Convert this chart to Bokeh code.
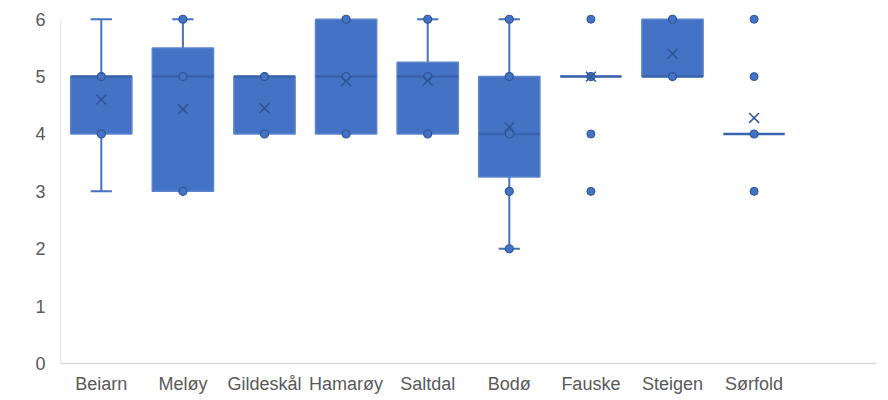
from bokeh.plotting import figure
from bokeh.models import Range1d, FixedTicker, ColumnDataSource
from bokeh.embed import file_html
from bokeh.resources import INLINE

# ---- data ----
categories = ["Beiarn", "Meløy", "Gildeskål", "Hamarøy", "Saltdal", "Bodø", "Fauske", "Steigen", "Sørfold"]
q1 =         [4.0, 3.0, 4.0, 4.0, 4.0, 3.25, 5.0, 5.0, 4.0]
median =     [5.0, 5.0, 5.0, 5.0, 5.0, 4.0, 5.0, 5.0, 4.0]
q3 =         [5.0, 5.5, 5.0, 6.0, 5.25, 5.0, 5.0, 6.0, 4.0]
whisker_lo = [3.0, 3.0, 4.0, 4.0, 4.0, 2.0, 5.0, 5.0, 4.0]
whisker_hi = [6.0, 6.0, 5.0, 6.0, 6.0, 6.0, 5.0, 6.0, 4.0]
mean =       [4.6, 4.43, 4.45, 4.92, 4.93, 4.12, 5.0, 5.4, 4.28]
inner_points = [[4, 5], [3, 5, 6], [4, 5], [4, 5, 6], [4, 5, 6], [2, 3, 4, 5, 6], [5], [5, 6], [4]]
outliers =     [[], [], [], [], [], [], [3, 4, 6], [], [3, 5, 6]]

BLUE = "#4472C4"
DARK = "#2F5597"
GREY_TXT = "#595959"
FONT = "Liberation Sans"

xs = list(range(len(categories)))

p = figure(width=888, height=400, output_backend="svg", toolbar_location=None,
           x_range=Range1d(-0.5, 9.5), y_range=Range1d(0, 6.1),
           min_border_left=60, min_border_right=12, min_border_top=13, min_border_bottom=37)
p.outline_line_color = None
p.background_fill_color = "white"
p.border_fill_color = "white"
p.xgrid.grid_line_color = None
p.ygrid.grid_line_color = None

src = ColumnDataSource(dict(x=xs, q1=q1, q3=q3, med=median, lo=whisker_lo, hi=whisker_hi, mean=mean))
# whiskers
p.segment(x0="x", x1="x", y0="q3", y1="hi", source=src, line_color=BLUE, line_width=2)
p.segment(x0="x", x1="x", y0="lo", y1="q1", source=src, line_color=BLUE, line_width=2)
# caps only where whisker extends beyond the box
cap_hi = [(x, h) for x, h, t in zip(xs, whisker_hi, q3) if h > t]
cap_lo = [(x, l) for x, l, b in zip(xs, whisker_lo, q1) if l < b]
cap_w = 0.13
if cap_hi:
    p.segment(x0=[c[0] - cap_w for c in cap_hi], x1=[c[0] + cap_w for c in cap_hi],
              y0=[c[1] for c in cap_hi], y1=[c[1] for c in cap_hi], line_color=BLUE, line_width=2)
if cap_lo:
    p.segment(x0=[c[0] - cap_w for c in cap_lo], x1=[c[0] + cap_w for c in cap_lo],
              y0=[c[1] for c in cap_lo], y1=[c[1] for c in cap_lo], line_color=BLUE, line_width=2)

# boxes
p.vbar(x="x", width=0.75, bottom="q1", top="q3", source=src,
       fill_color=BLUE, line_color="#5B84CC", line_width=1.5)
# median
p.segment(x0=[x - 0.375 for x in xs], x1=[x + 0.375 for x in xs], y0=median, y1=median,
          line_color="#3A63AD", line_width=2.5)

# points
px, py = [], []
for x, pts in zip(xs, inner_points):
    for v in pts:
        px.append(x); py.append(v)
p.scatter(px, py, marker="circle", size=8, fill_color=BLUE, line_color=DARK, line_width=1.2)
ox, oy = [], []
for x, pts in zip(xs, outliers):
    for v in pts:
        ox.append(x); oy.append(v)
p.scatter(ox, oy, marker="circle", size=8, fill_color=BLUE, line_color=DARK, line_width=1)

# mean markers
p.scatter(x="x", y="mean", source=src, marker="x", size=14, line_color=DARK, line_width=1.5)

# left plot-area border (0..6)
p.segment(x0=[-0.5], x1=[-0.5], y0=[0], y1=[6], line_color="#D9D9D9", line_width=1.5)

# axes
p.xaxis.ticker = FixedTicker(ticks=xs)
p.xaxis.major_label_overrides = {i: c for i, c in enumerate(categories)}
p.xaxis.axis_line_color = "#D9D9D9"
p.xaxis.axis_line_width = 1.5
p.xaxis.major_tick_line_color = None
p.xaxis.minor_tick_line_color = None
p.xaxis.major_label_text_font = FONT
p.xaxis.major_label_text_font_size = "18px"
p.xaxis.major_label_text_color = GREY_TXT
p.xaxis.major_label_standoff = 4

p.yaxis.ticker = FixedTicker(ticks=[0, 1, 2, 3, 4, 5, 6])
p.yaxis.axis_line_color = None
p.yaxis.major_tick_line_color = None
p.yaxis.minor_tick_line_color = None
p.yaxis.major_label_text_font = FONT
p.yaxis.major_label_text_font_size = "18px"
p.yaxis.major_label_text_color = GREY_TXT
p.yaxis.major_label_standoff = 9

open("out.html", "w").write(file_html(p, INLINE))
